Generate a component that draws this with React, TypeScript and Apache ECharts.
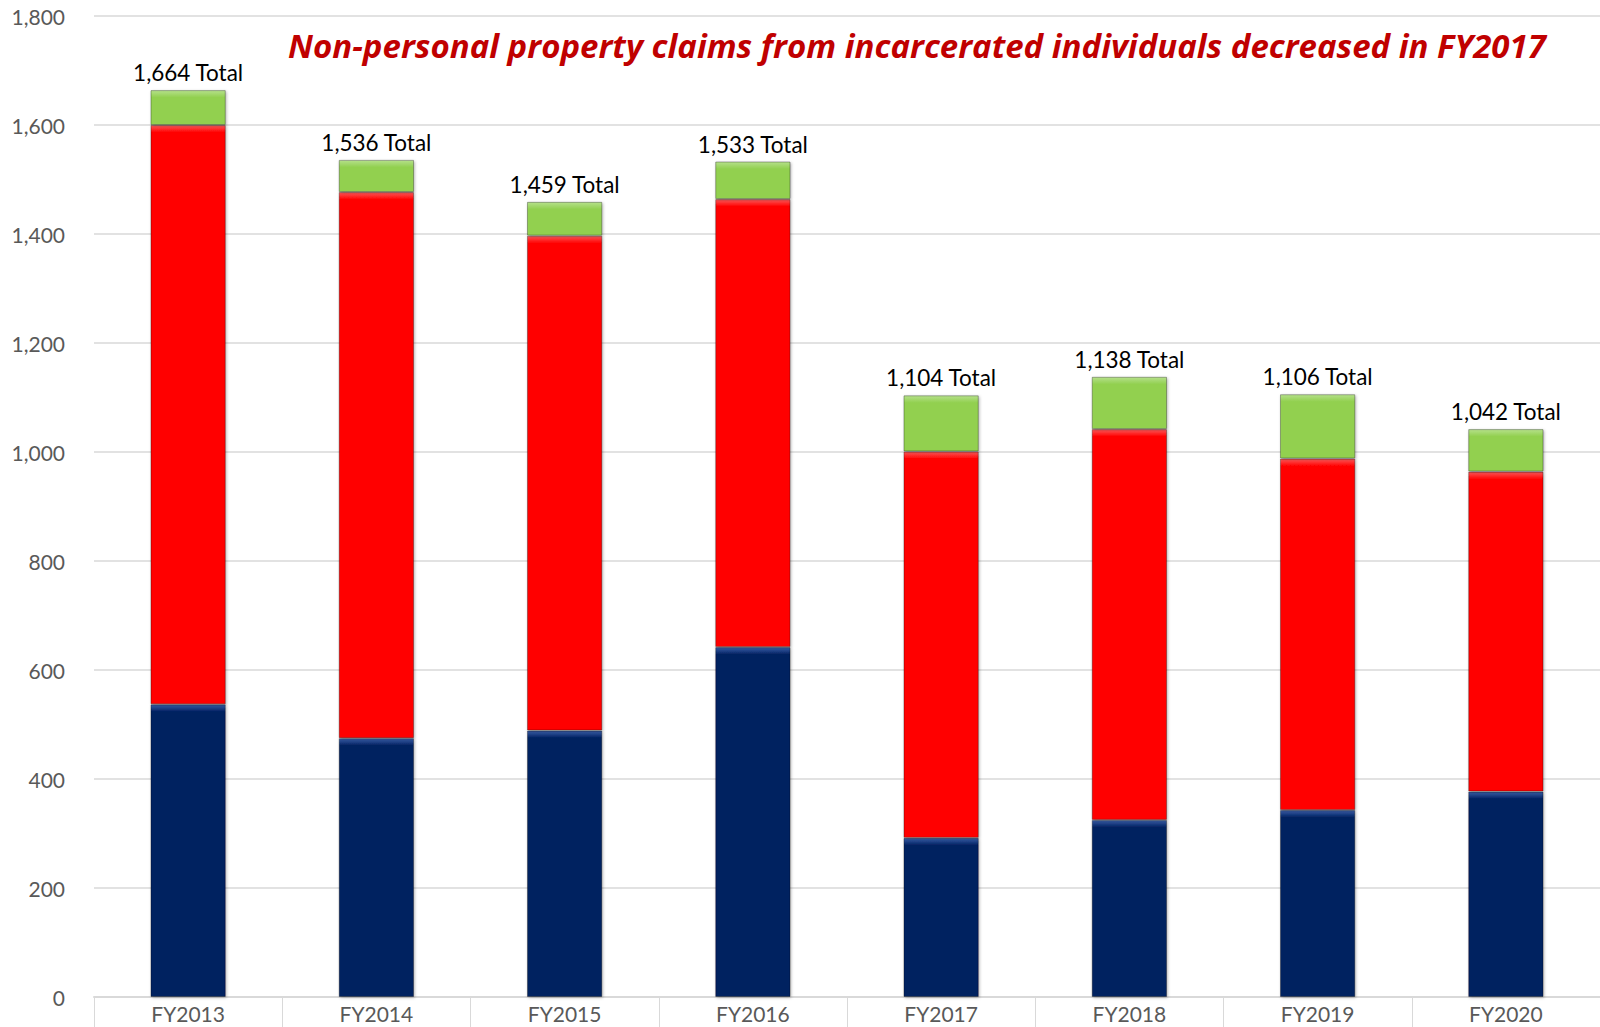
import React, { useEffect, useRef } from "react";
import * as echarts from "echarts";

const categories = ["FY2013", "FY2014", "FY2015", "FY2016", "FY2017", "FY2018", "FY2019", "FY2020"];
const blueValues = [537, 475, 489, 642, 292, 325, 343, 377];
const redValues = [1063, 1002, 908, 822, 709, 717, 645, 587];
const greenValues = [64, 59, 62, 69, 103, 96, 118, 78];
const totals = [1664, 1536, 1459, 1533, 1104, 1138, 1106, 1042];
const yTicks = { min: 0, max: 1800, interval: 200 };
const titleText = "Non-personal property claims from incarcerated individuals decreased in FY2017";

export default function App() {
  const ref = useRef<HTMLDivElement>(null);
  useEffect(() => {
    if (!ref.current) return;
    const chart = echarts.init(ref.current, null, { renderer: "svg" });
    const pxPerUnit = (1027 - 30 - 16) / (yTicks.max - yTicks.min);
    const barCommon = {
      type: "bar",
      stack: "total",
      barWidth: "40%",
    };
    const baseStyle = { borderColor: "rgba(0,0,0,0.3)", borderWidth: 1, shadowColor: "rgba(0,0,0,0.3)", shadowBlur: 3, shadowOffsetX: 1, shadowOffsetY: 1 };
    const withBevel = (vals: number[], top: string, main: string) =>
      vals.map((v) => {
        const off = Math.min(0.35, 7 / Math.max(1, v * pxPerUnit));
        return {
          value: v,
          itemStyle: {
            ...baseStyle,
            color: new echarts.graphic.LinearGradient(0, 0, 0, 1, [
              { offset: 0, color: top },
              { offset: off, color: main },
              { offset: 1, color: main },
            ]),
          },
        };
      });
    chart.setOption({
      animation: false,
      backgroundColor: "#ffffff",
      grid: { left: 94, right: 0, top: 16, bottom: 30, containLabel: false },
      graphic: [
        {
          type: "text",
          x: 917,
          y: 45,
          style: {
            text: titleText,
            fill: "#C00000",
            font: "italic bold 33px 'Open Sans', sans-serif",
            textAlign: "center",
            textVerticalAlign: "middle",
          },
        },
      ],
      xAxis: {
        type: "category",
        data: categories,
        axisLine: { lineStyle: { color: "#d9d9d9", width: 2 } },
        axisTick: { show: true, length: 32, lineStyle: { color: "#d9d9d9", width: 1 } },
        axisLabel: { color: "#595959", fontFamily: "Lato", fontSize: 21, margin: 6 },
      },
      yAxis: {
        type: "value",
        min: yTicks.min,
        max: yTicks.max,
        interval: yTicks.interval,
        axisLine: { show: false },
        axisTick: { show: false },
        splitLine: { lineStyle: { color: "#d9d9d9", width: 1.5 } },
        axisLabel: {
          color: "#595959",
          fontFamily: "Lato",
          fontSize: 21,
          margin: 29,
          formatter: (v: number) => v.toLocaleString("en-US"),
        },
      },
      series: [
        { ...barCommon, name: "Category A", data: withBevel(blueValues, "#3a5ea8", "#002060") },
        { ...barCommon, name: "Category B", data: withBevel(redValues, "#ff5a5a", "#FF0000") },
        {
          ...barCommon,
          name: "Category C",
          data: withBevel(greenValues, "#b5e08a", "#92D050"),
          label: {
            show: true,
            position: "top",
            distance: 6,
            color: "#000000",
            fontFamily: "Lato",
            fontSize: 22.5,
            formatter: (p: any) => totals[p.dataIndex].toLocaleString("en-US") + " Total",
          },
        },
      ],
    });
    return () => chart.dispose();
  }, []);
  return (
    <div
      ref={ref}
      style={{ position: "absolute", left: 0, top: 0, width: 1600, height: 1027 }}
    />
  );
}
